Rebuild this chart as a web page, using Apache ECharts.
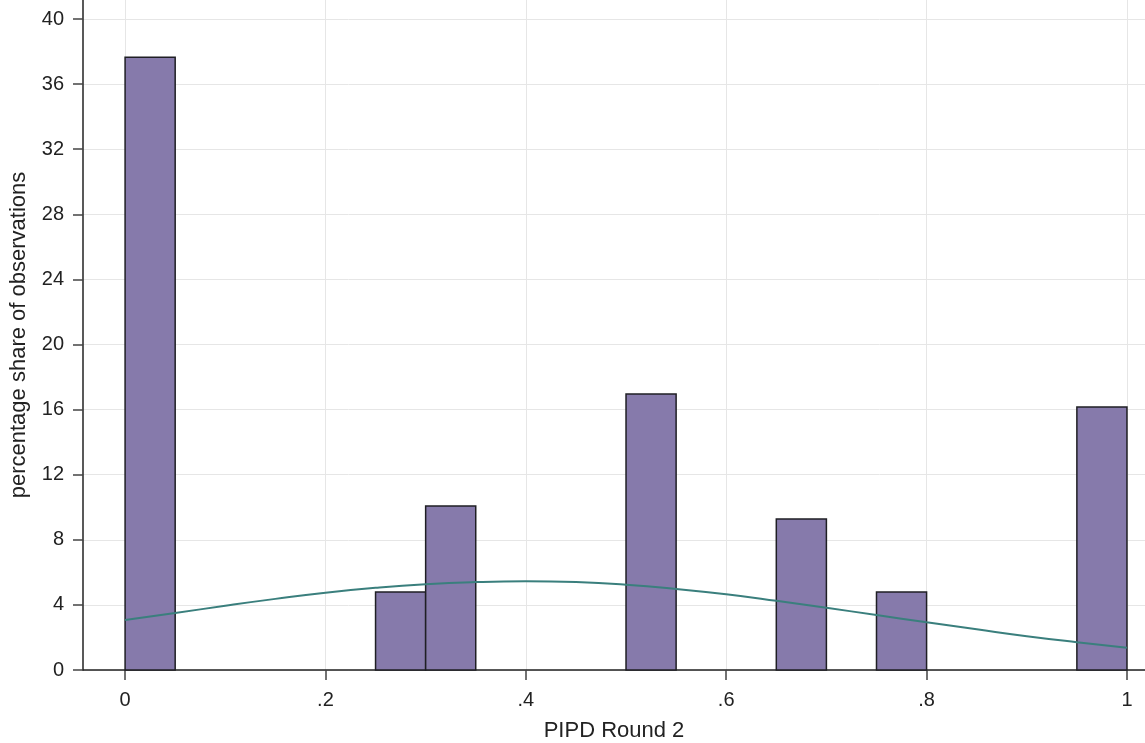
<!DOCTYPE html>
<html>
<head>
<meta charset="utf-8">
<script src="https://cdn.jsdelivr.net/npm/echarts@6/dist/echarts.min.js"></script>
<style>html,body{margin:0;padding:0;background:#fff}#c{width:1145px;height:743px}</style>
</head>
<body>
<div id="c"></div>
<script>
// Histogram bins (start, end) and percentage heights
const binStarts = [0, 0.25, 0.30, 0.50, 0.65, 0.75, 0.95];
const binEnds   = [0.05, 0.30, 0.35, 0.55, 0.70, 0.80, 1.00];
const binPct    = [37.65, 4.8, 10.08, 16.96, 9.28, 4.8, 16.16];
// Overlaid normal curve
const curveX = [0, 0.05, 0.1, 0.15, 0.2, 0.25, 0.3, 0.35, 0.4, 0.45, 0.5, 0.55, 0.6, 0.65, 0.7, 0.75, 0.8, 0.85, 0.9, 0.95, 1.0];
const curveY = [3.07, 3.5, 3.95, 4.37, 4.75, 5.05, 5.27, 5.40, 5.45, 5.40, 5.24, 4.98, 4.65, 4.25, 3.82, 3.38, 2.93, 2.50, 2.08, 1.71, 1.37];
// Tick labels
const xTicks = [0, 0.2, 0.4, 0.6, 0.8, 1];
const xTickLabels = ['0', '.2', '.4', '.6', '.8', '1'];
const yTicks = [0, 4, 8, 12, 16, 20, 24, 28, 32, 36, 40];

const chart = echarts.init(document.getElementById('c'));
const font = 'Liberation Sans, Arial, sans-serif';
chart.setOption({
  animation: false,
  grid: { left: 83, right: 0, top: 0, bottom: 73, containLabel: false, outerBoundsMode: 'none' },
  xAxis: {
    type: 'value', min: -0.042, max: 1.018,
    name: 'PIPD Round 2', nameLocation: 'middle', nameGap: 50,
    nameTextStyle: { fontFamily: font, fontSize: 22, color: '#222' },
    axisLine: { show: true, onZero: false, lineStyle: { color: '#222', width: 1.5 } },
    axisTick: { show: true, customValues: xTicks, length: 10, lineStyle: { color: '#444', width: 1.5 } },
    axisLabel: { customValues: xTicks, fontFamily: font, fontSize: 20, color: '#222', margin: 20,
      formatter: v => { const i = xTicks.findIndex(t => Math.abs(t - v) < 1e-6); return i >= 0 ? xTickLabels[i] : ''; } },
    splitLine: { show: true, lineStyle: { color: '#e6e6e6', width: 1 } }
  },
  yAxis: {
    type: 'value', min: 0, max: 41.17,
    name: 'percentage share of observations', nameLocation: 'middle', nameGap: 53,
    nameTextStyle: { fontFamily: font, fontSize: 22, color: '#222' },
    axisLine: { show: true, onZero: false, lineStyle: { color: '#222', width: 1.5 } },
    axisTick: { show: true, customValues: yTicks, length: 10, lineStyle: { color: '#444', width: 1.5 } },
    axisLabel: { customValues: yTicks, fontFamily: font, fontSize: 20, color: '#222', margin: 19 },
    splitLine: { show: true, lineStyle: { color: '#e6e6e6', width: 1 } }
  },
  series: [
    {
      type: 'custom',
      data: binPct.map((p, i) => [binStarts[i], binEnds[i], p]),
      encode: { x: [0, 1], y: 2 },
      renderItem: function (params, api) {
        const p0 = api.coord([api.value(0), 0]);
        const p1 = api.coord([api.value(1), api.value(2)]);
        return {
          type: 'rect',
          shape: { x: p0[0], y: p1[1], width: p1[0] - p0[0], height: p0[1] - p1[1] },
          style: { fill: '#867aab', stroke: '#1f1f24', lineWidth: 1.5 }
        };
      },
      z: 2
    },
    {
      type: 'line',
      data: curveX.map((x, i) => [x, curveY[i]]),
      smooth: true, showSymbol: false,
      lineStyle: { color: '#3a7f7d', width: 2 },
      z: 3
    }
  ]
});
</script>
</body>
</html>
